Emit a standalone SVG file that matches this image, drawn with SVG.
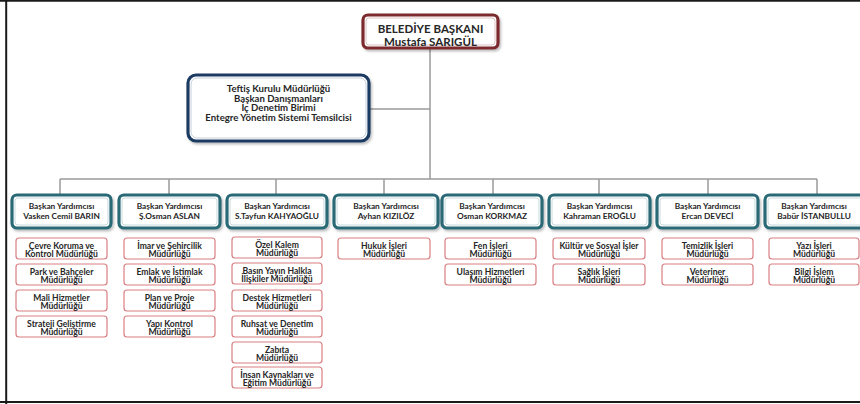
<svg xmlns="http://www.w3.org/2000/svg" width="860" height="404" viewBox="0 0 860 404">
<defs>
<style>
text{font-family:Lato,"Liberation Sans",sans-serif;font-weight:bold;fill:#262626;text-anchor:middle}
.top{font-size:11.5px}
.tef{font-size:9.6px}
.hd{font-size:8.3px}
.ch{font-size:8.6px}
.hbox{fill:#fff;stroke:#2c6b77;stroke-width:3.2}
.hin{fill:none;stroke:#b9d2d6;stroke-width:0.8}
.cbox{fill:#fff;stroke:#d97f82;stroke-width:1.2}
.conn{stroke:#9a9a9a;stroke-width:1.5;fill:none}
</style>
<filter id="sh" x="-10%" y="-10%" width="130%" height="140%">
<feDropShadow dx="1.5" dy="2" stdDeviation="1.2" flood-color="#000" flood-opacity="0.25"/>
</filter>
</defs>
<rect x="0" y="0" width="860" height="404" fill="#fff"/>
<g id="frame" fill="none" stroke="#1a1a1a">
<line x1="0" y1="0.8" x2="860" y2="0.8" stroke-width="2"/>
<line x1="6.2" y1="0" x2="6.2" y2="404" stroke-width="2"/>
<line x1="0" y1="402" x2="860" y2="402" stroke-width="2"/>
</g>
<g id="connectors" class="conn">
<path class="conn" d="M430 48V179"/>
<path class="conn" d="M369 109H430"/>
<path class="conn" d="M60 179H817"/>
<path class="conn" d="M60 179V195M169 179V195M276 179V195M384 179V195M493 179V195M599 179V195M708 179V195M817 179V195"/>
</g>
<g id="baskan">
<rect x="363" y="15" width="135" height="33" rx="5" fill="#fff" stroke="#7b2b2e" stroke-width="3.2" filter="url(#sh)"/>
<rect x="366" y="18" width="129" height="27" rx="3" fill="none" stroke="#d8b4b4" stroke-width="0.8"/>
<text class="top" x="430.5" y="33">BELEDİYE BAŞKANI</text>
<text class="top" x="430.5" y="45.5">Mustafa SARIGÜL</text>
</g>
<g id="teftis">
<rect x="188" y="75" width="181" height="66" rx="8" fill="#fff" stroke="#1e3b62" stroke-width="3.2" filter="url(#sh)"/>
<rect x="191" y="78" width="175" height="60" rx="6" fill="none" stroke="#b7c3d4" stroke-width="0.8"/>
<text class="tef" x="278.5" y="92">Teftiş Kurulu Müdürlüğü</text>
<text class="tef" x="278.5" y="101.5">Başkan Danışmanları</text>
<text class="tef" x="278.5" y="111">İç Denetim Birimi</text>
<text class="tef" x="278.5" y="121">Entegre Yönetim Sistemi Temsilcisi</text>
</g>
<g id="col1">
<rect class="hbox" x="12" y="195" width="99" height="33" rx="5" filter="url(#sh)"/><rect class="hin" x="15" y="198" width="93" height="27" rx="3"/>
<text class="hd" x="61.5" y="209">Başkan Yardımcısı</text><text class="hd" x="61.5" y="218.5">Vasken Cemil BARIN</text>
<rect class="cbox" x="16" y="238" width="91" height="21" rx="3"/><text class="ch" x="61.5" y="248.5">Çevre Koruma ve</text><text class="ch" x="61.5" y="257">Kontrol Müdürlüğü</text>
<rect class="cbox" x="16" y="264" width="91" height="21" rx="3"/><text class="ch" x="61.5" y="274.5">Park ve Bahçeler</text><text class="ch" x="61.5" y="283">Müdürlüğü</text>
<rect class="cbox" x="16" y="290" width="91" height="21" rx="3"/><text class="ch" x="61.5" y="300.5">Mali Hizmetler</text><text class="ch" x="61.5" y="309">Müdürlüğü</text>
<rect class="cbox" x="16" y="316" width="91" height="21" rx="3"/><text class="ch" x="61.5" y="326.5">Strateji Geliştirme</text><text class="ch" x="61.5" y="335">Müdürlüğü</text>
</g>
<g id="col2">
<rect class="hbox" x="119" y="195" width="101" height="33" rx="5" filter="url(#sh)"/><rect class="hin" x="122" y="198" width="95" height="27" rx="3"/>
<text class="hd" x="169.5" y="209">Başkan Yardımcısı</text><text class="hd" x="169.5" y="218.5">Ş.Osman ASLAN</text>
<rect class="cbox" x="124" y="238" width="91" height="21" rx="3"/><text class="ch" x="169.5" y="248.5">İmar ve Şehircilik</text><text class="ch" x="169.5" y="257">Müdürlüğü</text>
<rect class="cbox" x="124" y="264" width="91" height="21" rx="3"/><text class="ch" x="169.5" y="274.5">Emlak ve İstimlak</text><text class="ch" x="169.5" y="283">Müdürlüğü</text>
<rect class="cbox" x="124" y="290" width="91" height="21" rx="3"/><text class="ch" x="169.5" y="300.5">Plan ve Proje</text><text class="ch" x="169.5" y="309">Müdürlüğü</text>
<rect class="cbox" x="124" y="316" width="91" height="21" rx="3"/><text class="ch" x="169.5" y="326.5">Yapı Kontrol</text><text class="ch" x="169.5" y="335">Müdürlüğü</text>
</g>
<g id="col3">
<rect class="hbox" x="227" y="195" width="100" height="33" rx="5" filter="url(#sh)"/><rect class="hin" x="230" y="198" width="94" height="27" rx="3"/>
<text class="hd" x="277" y="209">Başkan Yardımcısı</text><text class="hd" x="277" y="218.5">S.Tayfun KAHYAOĞLU</text>
<rect class="cbox" x="232" y="237" width="90" height="21" rx="3"/><text class="ch" x="277" y="247.5">Özel Kalem</text><text class="ch" x="277" y="256">Müdürlüğü</text>
<rect class="cbox" x="232" y="263" width="90" height="21" rx="3"/><text class="ch" x="277" y="273.5">Basın Yayın Halkla</text><text class="ch" x="277" y="282">İlişkiler Müdürlüğü</text>
<rect class="cbox" x="232" y="290" width="90" height="21" rx="3"/><text class="ch" x="277" y="300.5">Destek Hizmetleri</text><text class="ch" x="277" y="309">Müdürlüğü</text>
<rect class="cbox" x="232" y="316" width="90" height="21" rx="3"/><text class="ch" x="277" y="326.5">Ruhsat ve Denetim</text><text class="ch" x="277" y="335">Müdürlüğü</text>
<rect class="cbox" x="232" y="342" width="90" height="21" rx="3"/><text class="ch" x="277" y="352.5">Zabıta</text><text class="ch" x="277" y="361">Müdürlüğü</text>
<rect class="cbox" x="232" y="367" width="90" height="21" rx="3"/><text class="ch" x="277" y="377.5">İnsan Kaynakları ve</text><text class="ch" x="277" y="386">Eğitim Müdürlüğü</text>
</g>
<g id="col4">
<rect class="hbox" x="334" y="195" width="104" height="33" rx="5" filter="url(#sh)"/><rect class="hin" x="337" y="198" width="98" height="27" rx="3"/>
<text class="hd" x="386" y="209">Başkan Yardımcısı</text><text class="hd" x="386" y="218.5">Ayhan KIZILÖZ</text>
<rect class="cbox" x="338" y="238" width="92" height="21" rx="3"/><text class="ch" x="384" y="248.5">Hukuk İşleri</text><text class="ch" x="384" y="257">Müdürlüğü</text>
</g>
<g id="col5">
<rect class="hbox" x="442" y="195" width="100" height="33" rx="5" filter="url(#sh)"/><rect class="hin" x="445" y="198" width="94" height="27" rx="3"/>
<text class="hd" x="492" y="209">Başkan Yardımcısı</text><text class="hd" x="492" y="218.5">Osman KORKMAZ</text>
<rect class="cbox" x="445" y="238" width="91" height="21" rx="3"/><text class="ch" x="490.5" y="248.5">Fen İşleri</text><text class="ch" x="490.5" y="257">Müdürlüğü</text>
<rect class="cbox" x="445" y="264" width="91" height="21" rx="3"/><text class="ch" x="490.5" y="274.5">Ulaşım Hizmetleri</text><text class="ch" x="490.5" y="283">Müdürlüğü</text>
</g>
<g id="col6">
<rect class="hbox" x="549" y="195" width="101" height="33" rx="5" filter="url(#sh)"/><rect class="hin" x="552" y="198" width="95" height="27" rx="3"/>
<text class="hd" x="599.5" y="209">Başkan Yardımcısı</text><text class="hd" x="599.5" y="218.5">Kahraman EROĞLU</text>
<rect class="cbox" x="553" y="238" width="92" height="21" rx="3"/><text class="ch" x="599" y="248.5">Kültür ve Sosyal İşler</text><text class="ch" x="599" y="257">Müdürlüğü</text>
<rect class="cbox" x="553" y="264" width="92" height="21" rx="3"/><text class="ch" x="599" y="274.5">Sağlık İşleri</text><text class="ch" x="599" y="283">Müdürlüğü</text>
</g>
<g id="col7">
<rect class="hbox" x="657" y="195" width="101" height="33" rx="5" filter="url(#sh)"/><rect class="hin" x="660" y="198" width="95" height="27" rx="3"/>
<text class="hd" x="707.5" y="209">Başkan Yardımcısı</text><text class="hd" x="707.5" y="218.5">Ercan DEVECİ</text>
<rect class="cbox" x="662" y="238" width="91" height="21" rx="3"/><text class="ch" x="707.5" y="248.5">Temizlik İşleri</text><text class="ch" x="707.5" y="257">Müdürlüğü</text>
<rect class="cbox" x="662" y="264" width="91" height="21" rx="3"/><text class="ch" x="707.5" y="274.5">Veteriner</text><text class="ch" x="707.5" y="283">Müdürlüğü</text>
</g>
<g id="col8">
<rect class="hbox" x="765" y="195" width="104" height="33" rx="5" filter="url(#sh)"/><rect class="hin" x="768" y="198" width="98" height="27" rx="3"/>
<text class="hd" x="814" y="209">Başkan Yardımcısı</text><text class="hd" x="814" y="218.5">Babür İSTANBULLU</text>
<rect class="cbox" x="769" y="238" width="90" height="21" rx="3"/><text class="ch" x="814" y="248.5">Yazı İşleri</text><text class="ch" x="814" y="257">Müdürlüğü</text>
<rect class="cbox" x="769" y="264" width="90" height="21" rx="3"/><text class="ch" x="814" y="274.5">Bilgi İşlem</text><text class="ch" x="814" y="283">Müdürlüğü</text>
</g>
</svg>
